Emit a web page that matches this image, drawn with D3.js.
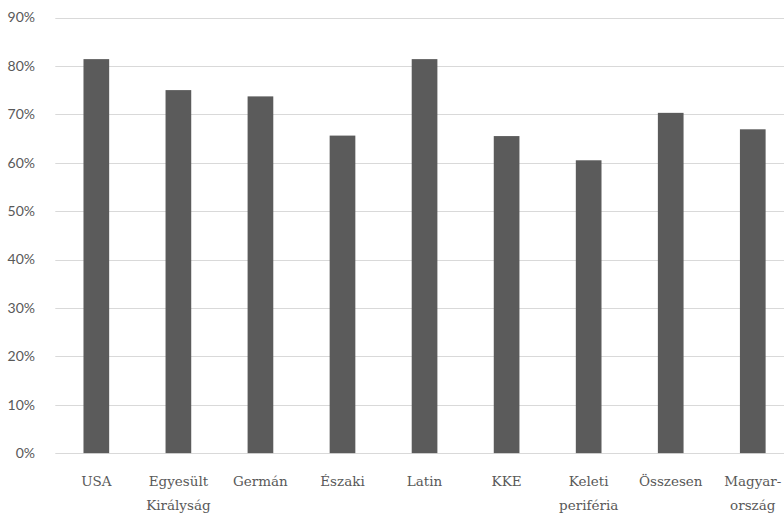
<!DOCTYPE html>
<html>
<head>
<meta charset="utf-8">
<script src="https://cdn.jsdelivr.net/npm/d3@7"></script>
<style>
  html, body { margin: 0; padding: 0; background: #fff; }
  svg { display: block; }
</style>
</head>
<body>
<svg id="chart" width="784" height="514"></svg>
<script>
// Categories (label lines) and share values in percent
const categories = ["USA", "Egyesült Királyság", "Germán", "Északi", "Latin", "KKE", "Keleti periféria", "Összesen", "Magyarország"];
const categoryLines = [["USA"], ["Egyesült", "Királyság"], ["Germán"], ["Északi"], ["Latin"], ["KKE"], ["Keleti", "periféria"], ["Összesen"], ["Magyar-", "ország"]];
const values = [81.4, 75.0, 73.7, 65.6, 81.4, 65.5, 60.5, 70.3, 66.9];
const yTicks = [0, 10, 20, 30, 40, 50, 60, 70, 80, 90];

const svg = d3.select("#chart");
const plotLeft = 55.3, plotRight = 793.8, plotTop = 17.5, plotBottom = 453.1;

const x = d3.scaleBand()
  .domain(categories)
  .range([plotLeft, plotRight])
  .paddingInner(0.687)
  .paddingOuter(0.3435);

const y = d3.scaleLinear().domain([0, 90]).range([plotBottom, plotTop]);

// Horizontal gridlines
svg.append("g")
  .selectAll("line")
  .data(yTicks)
  .join("line")
  .attr("x1", plotLeft)
  .attr("x2", 784)
  .attr("y1", d => Math.round(y(d)) + 0.5)
  .attr("y2", d => Math.round(y(d)) + 0.5)
  .attr("stroke", "#d9d9d9")
  .attr("stroke-width", 1);

// Y axis labels
const yAxis = d3.axisLeft(y).tickValues(yTicks).tickFormat(d => d + "%").tickSize(0).tickPadding(0);
const gy = svg.append("g").attr("transform", "translate(35,0)").call(yAxis);
gy.select(".domain").remove();
gy.selectAll("text")
  .attr("fill", "#595959")
  .style("font-family", "Lato, 'Open Sans', sans-serif")
  .style("font-size", "14px");

// Bars
svg.append("g")
  .selectAll("rect")
  .data(values)
  .join("rect")
  .attr("x", (d, i) => x(categories[i]))
  .attr("width", x.bandwidth())
  .attr("y", d => y(d))
  .attr("height", d => y(0) - y(d))
  .attr("fill", "#5b5b5b");

// Category labels (multi-line)
const labels = svg.append("g")
  .selectAll("text")
  .data(categories)
  .join("text")
  .attr("x", d => x(d) + x.bandwidth() / 2)
  .attr("y", 486)
  .attr("text-anchor", "middle")
  .attr("fill", "#595959")
  .style("font-family", "'DejaVu Serif', serif")
  .style("font-size", "13.5px");

labels.each(function(d, i) {
  const t = d3.select(this);
  categoryLines[i].forEach((line, j) => {
    t.append("tspan")
      .attr("x", x(d) + x.bandwidth() / 2)
      .attr("dy", j === 0 ? 0 : 24)
      .text(line);
  });
});
</script>
</body>
</html>
